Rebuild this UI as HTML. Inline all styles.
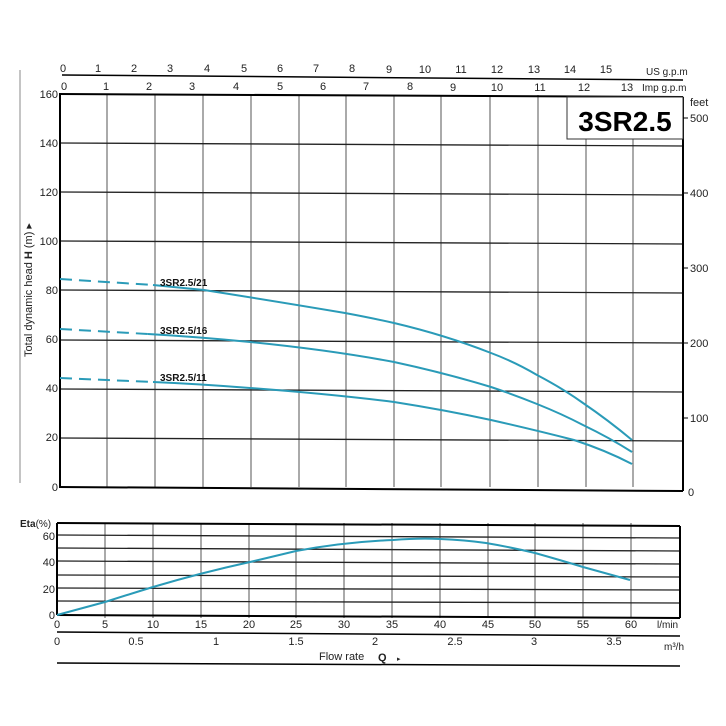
<!DOCTYPE html>
<html><head><meta charset="utf-8"><style>
html,body{margin:0;padding:0;background:#fff;}
svg{display:block;font-family:"Liberation Sans",Arial,sans-serif;}
</style></head><body>
<svg width="726" height="726" viewBox="0 0 726 726" xmlns="http://www.w3.org/2000/svg">
<rect width="726" height="726" fill="#fff"/>
<!-- main grid -->
<g stroke="#555" stroke-width="1">
<line x1="107" y1="95" x2="107" y2="487"/><line x1="155" y1="95" x2="155" y2="487"/>
<line x1="203" y1="95" x2="203" y2="487"/><line x1="251" y1="95" x2="251" y2="487"/>
<line x1="299" y1="95" x2="299" y2="487"/><line x1="346" y1="95" x2="346" y2="487"/>
<line x1="394" y1="95" x2="394" y2="487"/><line x1="441" y1="95" x2="441" y2="487"/>
<line x1="490" y1="95" x2="490" y2="487"/><line x1="538" y1="95" x2="538" y2="487"/>
<line x1="586" y1="139" x2="586" y2="487"/><line x1="633" y1="139" x2="633" y2="487"/>
</g>
<g stroke="#222" stroke-width="1.3">
<line x1="59" y1="143" x2="683" y2="146"/><line x1="59" y1="192" x2="683" y2="195"/>
<line x1="59" y1="241" x2="683" y2="244"/><line x1="59" y1="290" x2="683" y2="293"/>
<line x1="59" y1="340" x2="683" y2="343"/><line x1="59" y1="389" x2="683" y2="392"/>
<line x1="59" y1="438" x2="683" y2="441"/>
</g>
<g stroke="#000" stroke-width="2" fill="none">
<line x1="59" y1="94" x2="683" y2="97"/><line x1="59" y1="487" x2="683" y2="491"/>
<line x1="60" y1="94" x2="60" y2="487"/><line x1="683" y1="97" x2="683" y2="491"/>
</g>
<rect x="567" y="97" width="116" height="42" fill="#fff" stroke="#333" stroke-width="1"/>
<text x="625" y="131" font-size="28" font-weight="bold" text-anchor="middle">3SR2.5</text>
<!-- top axes -->
<line x1="62" y1="75" x2="683" y2="80" stroke="#000" stroke-width="1.5"/>
<g font-size="11" fill="#222" text-anchor="middle">
<text x="63" y="72">0</text><text x="98" y="72">1</text><text x="134" y="72">2</text><text x="170" y="72">3</text><text x="207" y="72">4</text><text x="244" y="72">5</text><text x="280" y="72">6</text><text x="316" y="72">7</text><text x="352" y="72">8</text><text x="389" y="73">9</text><text x="425" y="73">10</text><text x="461" y="73">11</text><text x="497" y="73">12</text><text x="534" y="73">13</text><text x="570" y="73">14</text><text x="606" y="73">15</text>
<text x="64" y="90">0</text><text x="106" y="90">1</text><text x="149" y="90">2</text><text x="192" y="90">3</text><text x="236" y="90">4</text><text x="280" y="90">5</text><text x="323" y="90">6</text><text x="366" y="90">7</text><text x="410" y="90">8</text><text x="453" y="91">9</text><text x="497" y="91">10</text><text x="540" y="91">11</text><text x="584" y="91">12</text><text x="627" y="91">13</text>
</g>
<text x="646" y="75" font-size="10" fill="#222">US g.p.m</text>
<text x="642" y="91" font-size="10" fill="#222">Imp g.p.m</text>
<!-- left y labels -->
<g font-size="11" fill="#222" text-anchor="end">
<text x="58" y="98">160</text><text x="58" y="147">140</text><text x="58" y="196">120</text><text x="58" y="245">100</text><text x="58" y="294">80</text><text x="58" y="343">60</text><text x="58" y="392">40</text><text x="58" y="441">20</text><text x="58" y="491">0</text>
</g>
<line x1="20" y1="70" x2="20" y2="483" stroke="#888" stroke-width="1"/>
<text transform="translate(32,290) rotate(-90)" font-size="11" fill="#222" text-anchor="middle">Total dynamic head <tspan font-weight="bold">H</tspan> (m) ▸</text>
<!-- feet -->
<g stroke="#000" stroke-width="1"><line x1="683" y1="118" x2="688" y2="118"/><line x1="683" y1="193" x2="688" y2="193"/><line x1="683" y1="268" x2="688" y2="268"/><line x1="683" y1="343" x2="688" y2="343"/><line x1="683" y1="418" x2="688" y2="418"/></g>
<g font-size="11" fill="#222"><text x="690" y="106">feet</text><text x="690" y="122">500</text><text x="690" y="197">400</text><text x="690" y="272">300</text><text x="690" y="347">200</text><text x="690" y="422">100</text><text x="688" y="496">0</text></g>
<!-- curves -->
<g stroke="#2a9bb8" stroke-width="2" fill="none">
<path d="M60 279 L153 285" stroke-dasharray="12 7"/>
<path d="M153 285 L204 290 Q280 302 345 313 Q372 318 394 323 Q445 335 491 353 Q515 362 537 375 Q562 388 583 403 Q608 420 632 440"/>
<path d="M60 329 L148 334" stroke-dasharray="12 7"/>
<path d="M148 334 Q200 337 250 342 Q330 350 394 362 Q445 373 491 387 Q515 395 537 404 Q562 414 583 425 Q610 438 632 452"/>
<path d="M60 378 L153 382" stroke-dasharray="12 7"/>
<path d="M153 382 Q200 384 250 388 Q330 394 394 402 Q445 410 491 420 Q535 430 574 440 Q605 450 632 464"/>
</g>
<g font-size="10" font-weight="bold" fill="#111">
<text x="160" y="286">3SR2.5/21</text><text x="160" y="334">3SR2.5/16</text><text x="160" y="381">3SR2.5/11</text>
</g>
<!-- efficiency chart -->
<g stroke="#555" stroke-width="1">
<line x1="105" y1="523" x2="105" y2="618"/><line x1="153" y1="523" x2="153" y2="618"/><line x1="201" y1="523" x2="201" y2="618"/><line x1="249" y1="523" x2="249" y2="618"/><line x1="296" y1="523" x2="296" y2="618"/><line x1="344" y1="523" x2="344" y2="618"/><line x1="392" y1="523" x2="392" y2="618"/><line x1="440" y1="523" x2="440" y2="618"/><line x1="488" y1="523" x2="488" y2="618"/><line x1="535" y1="523" x2="535" y2="618"/><line x1="583" y1="523" x2="583" y2="618"/><line x1="631" y1="523" x2="631" y2="618"/>
</g>
<g stroke="#222" stroke-width="1.3">
<line x1="57" y1="535" x2="680" y2="538"/><line x1="57" y1="548" x2="680" y2="551"/><line x1="57" y1="561" x2="680" y2="564"/><line x1="57" y1="575" x2="680" y2="577"/><line x1="57" y1="588" x2="680" y2="590"/><line x1="57" y1="601" x2="680" y2="603"/>
</g>
<g stroke="#000" stroke-width="2" fill="none">
<line x1="57" y1="523" x2="680" y2="526"/><line x1="57" y1="615" x2="680" y2="618"/><line x1="57" y1="523" x2="57" y2="615"/><line x1="680" y1="526" x2="680" y2="618"/>
</g>
<path d="M57 615 L105 602 Q130 594 153 587 Q200 573 250 562 Q275 556 296 551 Q345 542 393 540 Q418 538 440 539 Q465 540 486 543 Q510 547 535 553 Q560 560 583 567 Q608 574 630 580" stroke="#2a9bb8" stroke-width="2" fill="none"/>
<text x="20" y="527" font-size="10" fill="#222"><tspan font-weight="bold">Eta</tspan>(%)</text>
<g font-size="11" fill="#222" text-anchor="end"><text x="55" y="540">60</text><text x="55" y="566">40</text><text x="55" y="593">20</text><text x="55" y="619">0</text></g>
<g font-size="11" fill="#222" text-anchor="middle">
<text x="57" y="628">0</text><text x="105" y="628">5</text><text x="153" y="628">10</text><text x="201" y="628">15</text><text x="249" y="628">20</text><text x="296" y="628">25</text><text x="344" y="628">30</text><text x="392" y="628">35</text><text x="440" y="628">40</text><text x="488" y="628">45</text><text x="535" y="628">50</text><text x="583" y="628">55</text><text x="631" y="628">60</text>
</g>
<text x="657" y="628" font-size="10" fill="#222">l/min</text>
<line x1="57" y1="632" x2="680" y2="636" stroke="#000" stroke-width="1.5"/>
<g font-size="11" fill="#222" text-anchor="middle">
<text x="57" y="645">0</text><text x="136" y="645">0.5</text><text x="216" y="645">1</text><text x="296" y="645">1.5</text><text x="375" y="645">2</text><text x="455" y="645">2.5</text><text x="534" y="645">3</text><text x="614" y="645">3.5</text>
</g>
<text x="664" y="650" font-size="10" fill="#222">m³/h</text>
<text x="319" y="660" font-size="11" fill="#222">Flow rate</text>
<text x="378" y="661" font-size="11" font-weight="bold" fill="#222">Q</text>
<text x="397" y="661" font-size="7" fill="#222">▸</text>
<line x1="57" y1="663" x2="680" y2="666" stroke="#000" stroke-width="1.5"/>
</svg>
</body></html>
